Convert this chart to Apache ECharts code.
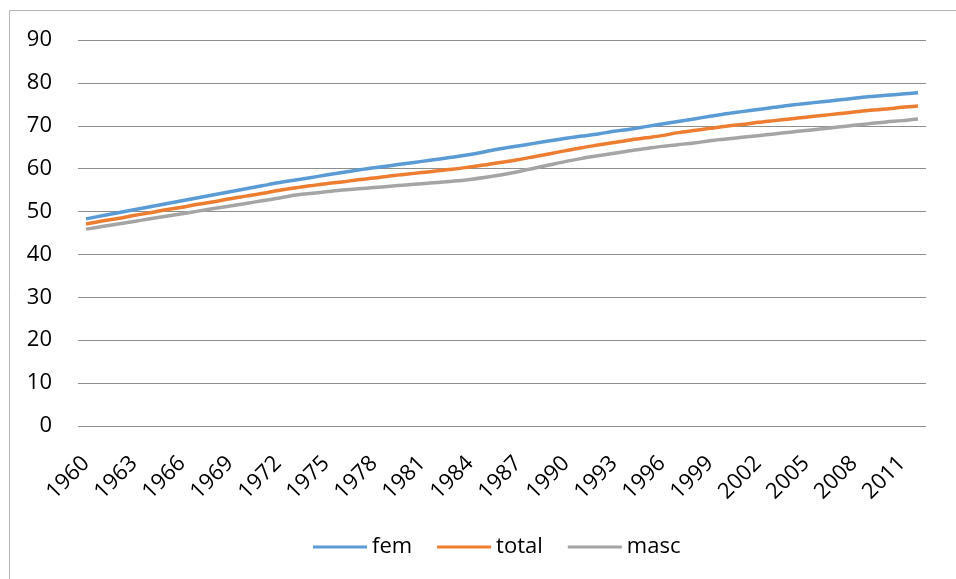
<!DOCTYPE html>
<html>
<head>
<meta charset="utf-8">
<script src="https://cdn.jsdelivr.net/npm/echarts@6/dist/echarts.min.js"></script>
<style>
html,body{margin:0;padding:0;background:#fff;}
#chart{width:956px;height:579px;}
</style>
</head>
<body>
<div id="chart"></div>
<script>
const years = [];
for (let y = 1960; y <= 2012; y++) years.push(String(y));

const fem = [48.3,49.0,49.7,50.4,51.1,51.8,52.5,53.2,53.9,54.6,
  55.3,56.0,56.7,57.3,57.9,58.5,59.1,59.7,60.2,60.7,
  61.2,61.7,62.2,62.7,63.3,64.0,64.7,65.3,65.9,66.5,
  67.1,67.6,68.1,68.7,69.2,69.8,70.4,71.0,71.6,72.2,
  72.8,73.3,73.8,74.3,74.8,75.2,75.6,76.0,76.4,76.8,
  77.1,77.4,77.7];
const total = [47.1,47.8,48.4,49.1,49.7,50.4,51.0,51.7,52.3,53.0,
  53.6,54.2,54.9,55.5,56.0,56.5,56.9,57.4,57.8,58.3,
  58.7,59.1,59.5,59.9,60.4,60.9,61.5,62.1,62.8,63.5,
  64.2,64.9,65.5,66.1,66.7,67.2,67.7,68.4,68.9,69.4,
  69.9,70.3,70.8,71.2,71.6,72.0,72.4,72.8,73.2,73.6,
  73.9,74.3,74.6];
const masc = [45.9,46.5,47.1,47.7,48.3,48.9,49.5,50.1,50.7,51.3,
  51.9,52.5,53.1,53.8,54.2,54.6,55.0,55.3,55.6,55.9,
  56.2,56.5,56.8,57.1,57.5,58.0,58.6,59.3,60.1,60.9,
  61.7,62.4,63.0,63.6,64.2,64.7,65.2,65.6,66.0,66.5,
  66.9,67.3,67.7,68.1,68.5,68.9,69.3,69.7,70.1,70.5,
  70.9,71.2,71.6];

const seriesNames = ['fem','total','masc'];
const colors = ['#5B9BD5','#ED7D31','#A5A5A5'];
const font = '"Open Sans", "Noto Sans", sans-serif';

const chart = echarts.init(document.getElementById('chart'), null, {renderer:'canvas'});
chart.setOption({
  animation: false,
  backgroundColor: '#fff',
  color: colors,
  graphic: [{
    type: 'rect', silent: true, z: -1,
    shape: {x: 9.5, y: 10.5, width: 1000, height: 1000},
    style: {fill: 'none', stroke: '#b4b4b4', lineWidth: 1}
  }],
  grid: {left: 78, right: 30, top: 40, bottom: 153, containLabel: false},
  legend: {
    data: seriesNames,
    left: 308, top: 531,
    icon: 'rect', itemWidth: 54, itemHeight: 3, itemGap: 25,
    textStyle: {fontFamily: font, fontSize: 22, color: '#000', padding: [0,0,0,0]},
  },
  xAxis: {
    type: 'category', data: years, boundaryGap: true,
    axisLine: {show: false}, axisTick: {show: false},
    axisLabel: {interval: 2, rotate: 45, margin: 34, fontFamily: font, fontSize: 22, color: '#000'},
    splitLine: {show: false}
  },
  yAxis: {
    type: 'value', min: 0, max: 90, interval: 10,
    axisLine: {show: false}, axisTick: {show: false},
    axisLabel: {margin: 26, fontFamily: font, fontSize: 22, color: '#000'},
    splitLine: {show: true, lineStyle: {color: '#8e8e8e', width: 1}}
  },
  series: [
    {name: 'fem', type: 'line', data: fem, smooth: 0.3, showSymbol: false, lineStyle: {width: 3.5, color: colors[0]}},
    {name: 'total', type: 'line', data: total, smooth: 0.3, showSymbol: false, lineStyle: {width: 3.5, color: colors[1]}},
    {name: 'masc', type: 'line', data: masc, smooth: 0.3, showSymbol: false, lineStyle: {width: 3.5, color: colors[2]}}
  ]
});
</script>
</body>
</html>
